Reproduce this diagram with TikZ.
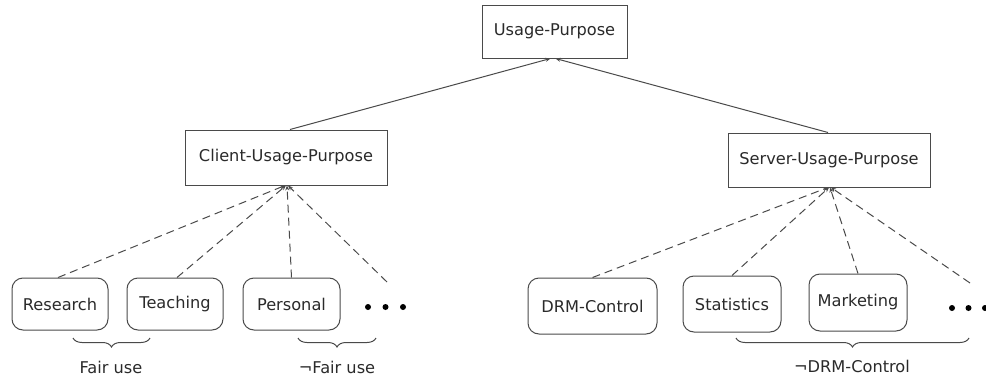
\documentclass[tikz,border=0pt]{standalone}
\usepackage{fontspec}
\setmainfont{DejaVu Sans}
\usetikzlibrary{arrows.meta,decorations.pathreplacing}
\definecolor{ln}{HTML}{4a4a4a}
\definecolor{tx}{HTML}{2a2a2a}
\tikzset{
  sqbox/.style={draw=ln, line width=1pt, fill=white, inner sep=0pt, text=tx},
  rbox/.style={draw=ln, line width=1pt, rounded corners=11pt, inner sep=0pt, text=tx},
  solidarr/.style={draw=ln, line width=1pt, -{Stealth[length=5pt,width=4pt]}},
  dasharr/.style={draw=ln, line width=1pt, dash pattern=on 8pt off 5pt, -{Stealth[length=5pt,width=4pt]}},
  bracestyle/.style={draw=ln, line width=1pt, decorate, decoration={brace, mirror, amplitude=9pt}},
  lbl/.style={text=tx, inner sep=0pt},
  dotstyle/.style={fill=black, draw=none, circle, minimum size=6pt, inner sep=0pt}
}
\begin{document}
\begin{tikzpicture}[x=1pt,y=-1pt, font=\fontsize{16.2}{19}\selectfont]
\useasboundingbox (0,0) rectangle (986,383);
% top
\node[sqbox, minimum width=145pt, minimum height=53pt] (usage) at (554.5,31.5) {Usage-Purpose};
\node[sqbox, minimum width=202pt, minimum height=55pt] (client) at (286,157.5) {Client-Usage-Purpose};
\node[sqbox, minimum width=202pt, minimum height=54pt] (server) at (829,160) {Server-Usage-Purpose};
% left leaves
\node[rbox, minimum width=96pt, minimum height=52pt] (research) at (60,304) {Research};
\node[rbox, minimum width=96pt, minimum height=52pt] (teaching) at (175,304) {Teaching};
\node[rbox, minimum width=97pt, minimum height=52pt] (personal) at (291.5,304) {Personal};
\node[dotstyle] (ld1) at (368,307) {};
\node[dotstyle] (ld2) at (385.5,307) {};
\node[dotstyle] (ld3) at (403,307) {};
\coordinate (ldots) at (387,282);
% right leaves
\node[rbox, minimum width=129pt, minimum height=56pt] (drm) at (592.5,306) {DRM-Control};
\node[rbox, minimum width=98pt, minimum height=56pt] (stats) at (732,304) {Statistics};
\node[rbox, minimum width=98pt, minimum height=57pt] (mkt) at (858,302.5) {Marketing};
\node[dotstyle] (rd1) at (952,308) {};
\node[dotstyle] (rd2) at (968.5,308) {};
\node[dotstyle] (rd3) at (985,308) {};
\coordinate (rdots) at (970,283);
% solid arrows
\draw[solidarr] ([xshift=4pt]client.north) -- ([xshift=-4pt]usage.south);
\draw[solidarr] ([xshift=-1pt]server.north) -- ([xshift=1pt]usage.south);
% dashed arrows left
\draw[dasharr] ([xshift=-2pt]research.north) -- ([xshift=-1pt]client.south);
\draw[dasharr] ([xshift=2pt]teaching.north) -- ([xshift=0pt]client.south);
\draw[dasharr] ([xshift=0pt]personal.north) -- ([xshift=1pt]client.south);
\draw[dasharr] (ldots) -- ([xshift=2pt]client.south);
% dashed arrows right
\draw[dasharr] (drm.north) -- ([xshift=-1pt]server.south);
\draw[dasharr] (stats.north) -- ([xshift=0pt]server.south);
\draw[dasharr] (mkt.north) -- ([xshift=1pt]server.south);
\draw[dasharr] (rdots) -- ([xshift=2pt]server.south);
% braces
\coordinate (b1a) at (73,338); \coordinate (b1b) at (150,338);
\coordinate (b2a) at (298,338); \coordinate (b2b) at (376,338);
\coordinate (b3a) at (736,338); \coordinate (b3b) at (969,338);
\draw[bracestyle] (b1a) -- (b1b);
\draw[bracestyle] (b2a) -- (b2b);
\draw[bracestyle] (b3a) -- (b3b);
\node[lbl] (fair) at (111,367) {Fair use};
\node[lbl] (nfair) at (337,367) {¬Fair use};
\node[lbl] (ndrm) at (852,366) {¬DRM-Control};
\end{tikzpicture}
\end{document}
